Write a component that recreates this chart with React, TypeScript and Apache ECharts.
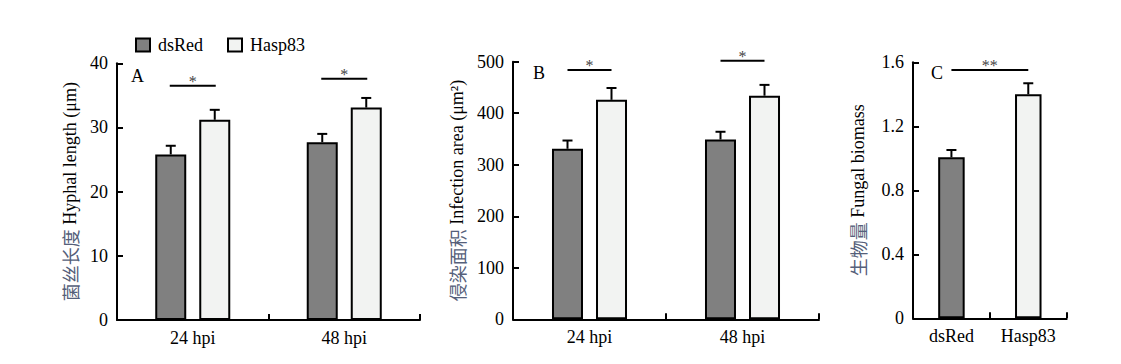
import React, { useEffect, useRef } from "react";
import * as echarts from "echarts";

// ---- data ----
const timeCats = ["24 hpi", "48 hpi"];
const strainCats = ["dsRed", "Hasp83"];
const seriesNames = ["dsRed", "Hasp83"];

const aDsRed = [25.8, 27.7];
const aDsRedErr = [1.35, 1.3];
const aHasp = [31.2, 33.1];
const aHaspErr = [1.55, 1.5];

const bDsRed = [331, 349];
const bDsRedErr = [16, 15];
const bHasp = [426, 434];
const bHaspErr = [23, 21];

const cValues = [1.006, 1.4];
const cErr = [0.046, 0.069];

const aSigY = [36.5, 37.6];
const aSigMark = ["*", "*"];
const bSigY = [484, 502];
const bSigMark = ["*", "*"];
const cSigY = [1.552];
const cSigMark = ["**"];

const aTicks = { min: 0, max: 40, interval: 10 };
const bTicks = { min: 0, max: 500, interval: 100 };
const cTicks = { min: 0, max: 1.6, interval: 0.4 };

// ---- styles ----
const FONT = "'Liberation Serif', 'Noto Sans CJK SC', serif";
const FS = 18;
const DARK = "#808080";
const LIGHT = "#f2f3f2";
const CN_COLOR = "#55607a";

function errRender(offset: number) {
  return (params: any, api: any) => {
    const cat = api.value(0);
    const v = api.value(1);
    const e = api.value(2);
    const p0 = api.coord([cat, v]);
    const p1 = api.coord([cat, v + e]);
    const x = p0[0] + offset;
    const style = { stroke: "#000", lineWidth: 2 };
    return {
      type: "group",
      children: [
        { type: "line", shape: { x1: x, y1: p0[1], x2: x, y2: p1[1] }, style },
        { type: "line", shape: { x1: x - 5, y1: p1[1], x2: x + 5, y2: p1[1] }, style },
      ],
    };
  };
}

function sigRenderPair(half: number) {
  return (params: any, api: any) => {
    const cat = api.value(0);
    const y = api.value(1);
    const p = api.coord([cat, y]);
    return {
      type: "group",
      children: [
        {
          type: "line",
          shape: { x1: p[0] - half, y1: p[1], x2: p[0] + half, y2: p[1] },
          style: { stroke: "#000", lineWidth: 2 },
        },
        {
          type: "text",
          x: p[0],
          y: p[1] + 4,
          style: {
            text: api.value(2),
            fontFamily: FONT,
            fontSize: 16,
            fill: "#444",
            align: "center",
            verticalAlign: "bottom",
          },
        },
      ],
    };
  };
}

function sigRenderSpan(params: any, api: any) {
  const y = api.value(2);
  const p0 = api.coord([api.value(0), y]);
  const p1 = api.coord([api.value(1), y]);
  return {
    type: "group",
    children: [
      {
        type: "line",
        shape: { x1: p0[0], y1: p0[1], x2: p1[0], y2: p1[1] },
        style: { stroke: "#000", lineWidth: 2 },
      },
      {
        type: "text",
        x: (p0[0] + p1[0]) / 2,
        y: p0[1] + 4,
        style: {
          text: api.value(3),
          fontFamily: FONT,
          fontSize: 16,
          fill: "#444",
          align: "center",
          verticalAlign: "bottom",
        },
      },
    ],
  };
}

export default function App() {
  const ref = useRef<HTMLDivElement>(null);

  useEffect(() => {
    document.body.style.margin = "0";
    if (!ref.current) return;
    const chart = echarts.init(ref.current, undefined, { renderer: "svg" });

    const axisLine = { show: true, lineStyle: { color: "#000", width: 2 } };
    const axisTick = { show: true, inside: true, length: 6, lineStyle: { color: "#000", width: 2 } };
    const axisLabel = { color: "#000", fontFamily: FONT, fontSize: FS };

    const xAxisBase = (gridIndex: number, data: string[]) => ({
      type: "category",
      gridIndex,
      data,
      boundaryGap: true,
      axisLine,
      axisTick: { ...axisTick, alignWithLabel: false },
      axisLabel: { ...axisLabel, margin: 9 },
      splitLine: { show: false },
    });

    const yAxisBase = (gridIndex: number, t: any, name: string, gap: number) => ({
      type: "value",
      gridIndex,
      min: t.min,
      max: t.max,
      interval: t.interval,
      axisLine,
      axisTick,
      axisLabel: { ...axisLabel, margin: 9 },
      splitLine: { show: false },
      name,
      nameLocation: "middle",
      nameGap: gap,
      nameRotate: 90,
      nameTextStyle: {
        fontFamily: FONT,
        fontSize: FS,
        color: "#000",
        rich: {
          cn: { fontFamily: "'Noto Sans CJK SC', sans-serif", fontSize: FS, color: CN_COLOR },
          en: { fontFamily: FONT, fontSize: FS, color: "#000" },
        },
      },
    });

    const barStyle = (color: string) => ({ color, borderColor: "#000", borderWidth: 2 });

    const option: any = {
      animation: false,
      backgroundColor: "#fff",
      legend: {
        left: 135,
        top: 36,
        padding: 0,
        itemGap: 24,
        itemWidth: 14,
        itemHeight: 13,
        icon: "rect",
        data: seriesNames,
        textStyle: { fontFamily: FONT, fontSize: FS, color: "#000", padding: [0, 0, 0, 3] },
        selectedMode: false,
      },
      grid: [
        { left: 117, top: 63.3, width: 303, height: 256.7 },
        { left: 513, top: 61.7, width: 306, height: 257.6 },
        { left: 913, top: 62.3, width: 153.7, height: 256 },
      ],
      xAxis: [xAxisBase(0, timeCats), xAxisBase(1, timeCats), xAxisBase(2, strainCats)],
      yAxis: [
        yAxisBase(0, aTicks, "{cn|菌丝长度}{en| Hyphal length (μm)}", 38),
        yAxisBase(1, bTicks, "{cn|侵染面积}{en| Infection area (μm²)}", 47),
        yAxisBase(2, cTicks, "{cn|生物量}{en| Fungal biomass}", 46),
      ],
      graphic: [
        { type: "text", left: 131, top: 67, style: { text: "A", fontFamily: FONT, fontSize: FS, fill: "#000" } },
        { type: "text", left: 533, top: 64, style: { text: "B", fontFamily: FONT, fontSize: FS, fill: "#000" } },
        { type: "text", left: 931, top: 64, style: { text: "C", fontFamily: FONT, fontSize: FS, fill: "#000" } },
      ],
      series: [
        // Panel A
        { name: seriesNames[0], type: "bar", xAxisIndex: 0, yAxisIndex: 0, data: aDsRed, barWidth: 31, barGap: "42%", itemStyle: barStyle(DARK) },
        { name: seriesNames[1], type: "bar", xAxisIndex: 0, yAxisIndex: 0, data: aHasp, barWidth: 31, barGap: "42%", itemStyle: barStyle(LIGHT) },
        { type: "custom", xAxisIndex: 0, yAxisIndex: 0, renderItem: errRender(-22), data: aDsRed.map((v, i) => [i, v, aDsRedErr[i]]), z: 3, clip: false },
        { type: "custom", xAxisIndex: 0, yAxisIndex: 0, renderItem: errRender(22), data: aHasp.map((v, i) => [i, v, aHaspErr[i]]), z: 3, clip: false },
        { type: "custom", xAxisIndex: 0, yAxisIndex: 0, renderItem: sigRenderPair(23), data: aSigY.map((y, i) => [i, y, aSigMark[i]]), dimensions: ["x", "y", { name: "m", type: "ordinal" }], z: 3, clip: false },
        // Panel B
        { name: seriesNames[0], type: "bar", xAxisIndex: 1, yAxisIndex: 1, data: bDsRed, barWidth: 31, barGap: "42%", itemStyle: barStyle(DARK) },
        { name: seriesNames[1], type: "bar", xAxisIndex: 1, yAxisIndex: 1, data: bHasp, barWidth: 31, barGap: "42%", itemStyle: barStyle(LIGHT) },
        { type: "custom", xAxisIndex: 1, yAxisIndex: 1, renderItem: errRender(-22), data: bDsRed.map((v, i) => [i, v, bDsRedErr[i]]), z: 3, clip: false },
        { type: "custom", xAxisIndex: 1, yAxisIndex: 1, renderItem: errRender(22), data: bHasp.map((v, i) => [i, v, bHaspErr[i]]), z: 3, clip: false },
        { type: "custom", xAxisIndex: 1, yAxisIndex: 1, renderItem: sigRenderPair(22), data: bSigY.map((y, i) => [i, y, bSigMark[i]]), dimensions: ["x", "y", { name: "m", type: "ordinal" }], z: 3, clip: false },
        // Panel C
        {
          type: "bar",
          xAxisIndex: 2,
          yAxisIndex: 2,
          barWidth: 26.5,
          data: cValues.map((v, i) => ({ value: v, itemStyle: barStyle(i === 0 ? DARK : LIGHT) })),
        },
        { type: "custom", xAxisIndex: 2, yAxisIndex: 2, renderItem: errRender(0), data: cValues.map((v, i) => [i, v, cErr[i]]), z: 3, clip: false },
        { type: "custom", xAxisIndex: 2, yAxisIndex: 2, renderItem: sigRenderSpan, data: cSigY.map((y, i) => [0, 1, y, cSigMark[i]]), dimensions: ["a", "b", "y", { name: "m", type: "ordinal" }], z: 3, clip: false },
      ],
    };

    chart.setOption(option);
    return () => chart.dispose();
  }, []);

  return <div ref={ref} style={{ width: 1121, height: 364 }} />;
}
